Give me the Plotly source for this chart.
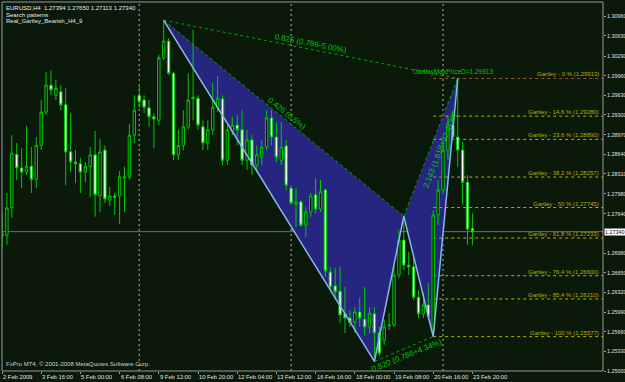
import plotly.graph_objects as go

# ---------------- data ----------------
bars = list(range(97))
opens = [1.2727,1.2728,1.2774,1.2864,1.2841,1.2834,1.2844,1.2822,1.2879,1.2935,
         1.2980,1.2963,1.2969,1.2947,1.2868,1.2851,1.2848,1.2834,1.2843,1.2863,
         1.2794,1.2871,1.2787,1.2794,1.2794,1.2824,1.2826,1.2896,1.2963,1.2955,
         1.2942,1.2927,1.2921,1.3026,1.3054,1.3000,1.2863,1.2879,1.2910,1.2957,
         1.2958,1.2910,1.2883,1.2905,1.2943,1.2957,1.2854,1.2903,1.2913,1.2905,
         1.2854,1.2888,1.2846,1.2859,1.2876,1.2925,1.2893,1.2854,1.2878,1.2807,
         1.2780,1.2784,1.2745,1.2767,1.2796,1.2772,1.2804,1.2666,1.2643,1.2634,
         1.2596,1.2589,1.2582,1.2599,1.2587,1.2574,1.2596,1.2564,1.2552,1.2576,
         1.2577,1.2661,1.2720,1.2678,1.2675,1.2624,1.2596,1.2611,1.2569,1.2762,
         1.2804,1.2871,1.2913,1.2893,1.2871,1.2817,1.27394]
highs = [1.2765,1.2799,1.2896,1.2883,1.2874,1.2911,1.2876,1.2893,1.2955,1.3002,
         1.3005,1.2989,1.2980,1.2975,1.2933,1.2871,1.2858,1.2851,1.2876,1.2903,
         1.2890,1.2879,1.2809,1.2799,1.2836,1.2843,1.2915,1.2963,1.2980,1.2963,
         1.2955,1.2933,1.3031,1.3089,1.3059,1.3002,1.2905,1.2938,1.3000,1.3073,
         1.2963,1.2921,1.2921,1.2984,1.2995,1.2963,1.2913,1.2927,1.2930,1.2938,
         1.2905,1.2896,1.2879,1.2888,1.2938,1.2938,1.2918,1.2918,1.2888,1.2812,
         1.2807,1.2787,1.2775,1.2799,1.2824,1.2821,1.2807,1.2675,1.2673,1.2675,
         1.2641,1.2602,1.2607,1.2623,1.2641,1.2607,1.2607,1.2574,1.2586,1.2597,
         1.2675,1.2737,1.2760,1.2700,1.2691,1.2636,1.2631,1.2648,1.2770,1.2821,
         1.2888,1.2930,1.2938,1.29913,1.2885,1.2829,1.27650]
lows = [1.2707,1.2712,1.2757,1.2821,1.2807,1.2829,1.2799,1.2807,1.2871,1.2930,
        1.2963,1.2955,1.2938,1.2812,1.2834,1.2816,1.2799,1.2817,1.2792,1.2759,
        1.2767,1.2782,1.2777,1.2762,1.2747,1.2767,1.2821,1.2883,1.2942,1.2933,
        1.2910,1.2874,1.2913,1.3022,1.2997,1.2854,1.2854,1.2871,1.2905,1.2921,
        1.2905,1.2871,1.2871,1.2896,1.2935,1.2846,1.2846,1.2896,1.2879,1.2846,
        1.2838,1.2829,1.2834,1.2846,1.2871,1.2879,1.2851,1.2846,1.2804,1.2779,
        1.2742,1.2742,1.2725,1.2759,1.2765,1.2767,1.2658,1.2636,1.2619,1.2581,
        1.2564,1.2574,1.2564,1.2574,1.2560,1.2564,1.2516,1.2525,1.2544,1.2569,
        1.2574,1.2656,1.2670,1.2661,1.2619,1.2589,1.2589,1.2586,1.25577,1.2745,
        1.2796,1.2854,1.2888,1.2843,1.2779,1.2712,1.27113]
closes = [1.2730,1.2774,1.2866,1.2841,1.2834,1.2844,1.2822,1.2879,1.2935,1.2980,
          1.2972,1.2975,1.2947,1.2868,1.2851,1.2848,1.2834,1.2844,1.2863,1.2796,
          1.2868,1.2789,1.2794,1.2792,1.2826,1.2826,1.2896,1.2938,1.2952,1.2943,
          1.2927,1.2923,1.3026,1.3054,1.3000,1.2863,1.2879,1.2910,1.2955,1.2960,
          1.2913,1.2883,1.2905,1.2943,1.2958,1.2854,1.2905,1.2913,1.2905,1.2854,
          1.2888,1.2846,1.2863,1.2876,1.2925,1.2893,1.2859,1.2876,1.2812,1.2782,
          1.2784,1.2745,1.2767,1.2794,1.2772,1.2801,1.2668,1.2641,1.2633,1.2594,
          1.2589,1.2582,1.2599,1.2589,1.2574,1.2597,1.2564,1.2530,1.2574,1.2577,
          1.2661,1.2720,1.2678,1.2675,1.2624,1.2596,1.2611,1.2592,1.2762,1.2804,
          1.2871,1.2913,1.2893,1.2871,1.2817,1.2738,1.27340]

tick_bars = [0, 8, 16, 24, 32, 40, 48, 56, 64, 72, 80, 88, 96]
tick_text = ["2 Feb 2009", "3 Feb 16:00", "5 Feb 00:00", "6 Feb 08:00", "9 Feb 12:00",
             "10 Feb 20:00", "12 Feb 04:00", "13 Feb 12:00", "16 Feb 16:00",
             "18 Feb 00:00", "19 Feb 08:00", "20 Feb 16:00", "23 Feb 20:00"]
price_ticks = [1.25000, 1.25330, 1.25660, 1.25990, 1.26320, 1.26650, 1.26980,
               1.27640, 1.27980, 1.28310, 1.28640, 1.28970, 1.29300, 1.29630,
               1.29960, 1.30290, 1.30630, 1.30960]
week_starts = [28, 59, 90]

point_names = ["X", "A", "B", "C", "D"]
point_bars = [33, 76, 82, 88, 93]
point_prices = [1.3089, 1.2516, 1.2760, 1.25577, 1.29913]

fib_pcts = ["0", "14.6", "23.6", "38.2", "50", "61.8", "76.4", "85.4", "100"]
fib_prices = [1.29913, 1.29280, 1.28890, 1.28257, 1.27745, 1.27233, 1.26600, 1.26210, 1.25577]

ratio_texts = ["0.825 (0.786-5.00%)", "0.426 (0.5%)", "0.820 (0.786+4.34%)"]
cd_target = 1.618

symbol = "EURUSD,H4"
last_bar = {"open": 1.27394, "high": 1.27650, "low": 1.27113, "close": 1.27340}

# ---------------- style ----------------
BG = "#0a190a"
GREEN = "#00c800"
DGREEN = "#00a800"
BLUE_FILL = "#262680"
ZIGZAG = "#88b8e8"
OLIVE = "#b8b000"
BROWN = "#a0522d"
GRAY = "#9a9a9a"
SEP = "#b4b4b4"
FONT = "Liberation Sans"

X_MIN, X_MAX = 0.0, 122.65
Y_MIN, Y_MAX = 1.25000, 1.31197

fig = go.Figure()

# triangles X-A-B and B-C-D
for idx in ([0, 1, 2], [2, 3, 4]):
    xs = [point_bars[i] for i in idx]
    ys = [point_prices[i] for i in idx]
    path = "M {} {} L {} {} L {} {} Z".format(xs[0], ys[0], xs[1], ys[1], xs[2], ys[2])
    fig.add_shape(type="path", path=path, xref="x", yref="y",
                  fillcolor=BLUE_FILL, line=dict(width=0), layer="below")

# week separators
for w in week_starts:
    fig.add_shape(type="line", xref="x", yref="paper", x0=w, x1=w, y0=0, y1=1,
                  line=dict(color=SEP, width=1, dash="2px,3px"), layer="below")

# current price line
fig.add_shape(type="line", xref="paper", yref="y", x0=0, x1=1,
              y0=last_bar["close"], y1=last_bar["close"],
              line=dict(color="#6e6e6e", width=1), layer="below")

# fibonacci levels from C
for k, (pct, p) in enumerate(zip(fib_pcts, fib_prices)):
    fig.add_shape(type="line", xref="x", yref="y", x0=point_bars[3], x1=X_MAX, y0=p, y1=p,
                  line=dict(color=BROWN if k == 0 else OLIVE, width=1, dash="3px,3px"), layer="below")
    fig.add_annotation(xref="paper", yref="y", x=1, y=p, xanchor="right", yanchor="middle",
                       xshift=-2, yshift=4, showarrow=False,
                       text="Gartley - {} % ({:.5f})".format(pct, p),
                       font=dict(family=FONT, size=6, color=OLIVE))

# dotted ratio lines X-D, X-B, A-C, B-D
for a, b in ((0, 4), (0, 2), (1, 3), (2, 4)):
    fig.add_trace(go.Scatter(x=[point_bars[a], point_bars[b]], y=[point_prices[a], point_prices[b]],
                             mode="lines", line=dict(color=DGREEN, width=1, dash="dot"),
                             hoverinfo="skip", showlegend=False))

# zigzag X-A-B-C-D
fig.add_trace(go.Scatter(x=point_bars, y=point_prices, mode="lines",
                         line=dict(color=ZIGZAG, width=1.5), hoverinfo="skip", showlegend=False))

# candles
fig.add_trace(go.Candlestick(
    x=bars, open=opens, high=highs, low=lows, close=closes,
    increasing=dict(line=dict(color=GREEN, width=1), fillcolor=BG),
    decreasing=dict(line=dict(color=GREEN, width=1), fillcolor="white"),
    whiskerwidth=0, showlegend=False, hoverinfo="skip"))

# ratio texts
def mid(a, b):
    return (point_bars[a] + point_bars[b]) / 2, (point_prices[a] + point_prices[b]) / 2

mx, my = mid(0, 4)
fig.add_annotation(x=mx, y=my, text=ratio_texts[0], showarrow=False, textangle=11, yshift=6,
                   font=dict(family=FONT, size=8, color=GREEN))
mx, my = mid(0, 2)
fig.add_annotation(x=mx, y=my, text=ratio_texts[1], showarrow=False, textangle=39, yshift=5, xshift=3,
                   font=dict(family=FONT, size=8, color=GREEN))
mx, my = mid(1, 3)
fig.add_annotation(x=mx, y=my, text=ratio_texts[2], showarrow=False, textangle=-22, yshift=-6, xshift=3,
                   font=dict(family=FONT, size=8, color=GREEN))
cd_ratio = (point_prices[4] - point_prices[3]) / (point_prices[2] - point_prices[3])
mx, my = mid(2, 4)
fig.add_annotation(x=mx, y=my, showarrow=False, textangle=-69, xshift=9, yshift=-3,
                   text="{:.3f} ({:.3f}+{:.2f}%)".format(cd_ratio, cd_target,
                                                      (cd_ratio - cd_target) / cd_target * 100),
                   font=dict(family=FONT, size=8, color=GREEN))

fig.add_annotation(x=point_bars[4], y=point_prices[4],
                   text="GartleyMaxPriceD={:.5f}".format(point_prices[4]),
                   showarrow=False, yshift=6, xshift=-5, font=dict(family=FONT, size=6.5, color=GREEN))

# header texts
header = ["{}  {:.5f} {:.5f} {:.5f} {:.5f}".format(symbol, last_bar["open"], last_bar["high"],
                                                  last_bar["low"], last_bar["close"]),
          "Search patterns", "Real_Gartley_Bearish_H4_9"]
for i, t in enumerate(header):
    fig.add_annotation(xref="paper", yref="paper", x=0, y=1, xanchor="left", yanchor="top",
                       xshift=2, yshift=-1 - 6.5 * i, showarrow=False, text=t,
                       font=dict(family=FONT, size=6, color="#e8e8e8"))
fig.add_annotation(xref="paper", yref="paper", x=0, y=0, xanchor="left", yanchor="bottom",
                   xshift=2, yshift=2, showarrow=False,
                   text="FxPro MT4, \u00a9 2001-2008 MetaQuotes Software Corp.",
                   font=dict(family=FONT, size=6, color="#d0d0d0"))

# x tick labels (left-aligned after tick, MT4 style)
for tb, tt in zip(tick_bars, tick_text):
    fig.add_annotation(xref="x", yref="paper", x=tb, y=0, xanchor="left", yanchor="top",
                       xshift=-1, yshift=-1, showarrow=False, text=tt,
                       font=dict(family=FONT, size=5.8, color="#e0e0e0"))

# y tick labels (left-aligned right of the axis)
for v in price_ticks:
    fig.add_annotation(xref="paper", yref="y", x=1, y=v, xanchor="left", yanchor="middle",
                       xshift=2, showarrow=False, text="{:.5f}".format(v),
                       font=dict(family=FONT, size=5.4, color="#e0e0e0"))

# current price label
fig.add_annotation(xref="paper", yref="y", x=1, y=last_bar["close"], xanchor="left", yanchor="middle",
                   xshift=1, showarrow=False, text="{:.5f}".format(last_bar["close"]), bgcolor="white",
                   borderpad=0, font=dict(family=FONT, size=5.4, color="black"))

fig.add_shape(type="rect", xref="paper", yref="paper", x0=0, x1=1, y0=0, y1=1,
              line=dict(color=GRAY, width=1), layer="above")

fig.update_layout(
    width=625, height=382, margin=dict(l=2, r=22, t=2, b=11),
    paper_bgcolor=BG, plot_bgcolor=BG, showlegend=False,
    xaxis=dict(range=[X_MIN, X_MAX], rangeslider=dict(visible=False), showgrid=False, zeroline=False,
               tickvals=tick_bars, ticks="outside", ticklen=2, tickcolor=GRAY,
               showticklabels=False, showline=False, automargin=False, fixedrange=True),
    yaxis=dict(range=[Y_MIN, Y_MAX], side="right", showgrid=False, zeroline=False,
               tickvals=price_ticks, ticks="outside", ticklen=2, tickcolor=GRAY,
               showticklabels=False, showline=False, automargin=False, fixedrange=True),
)

fig.write_html("out.html")
